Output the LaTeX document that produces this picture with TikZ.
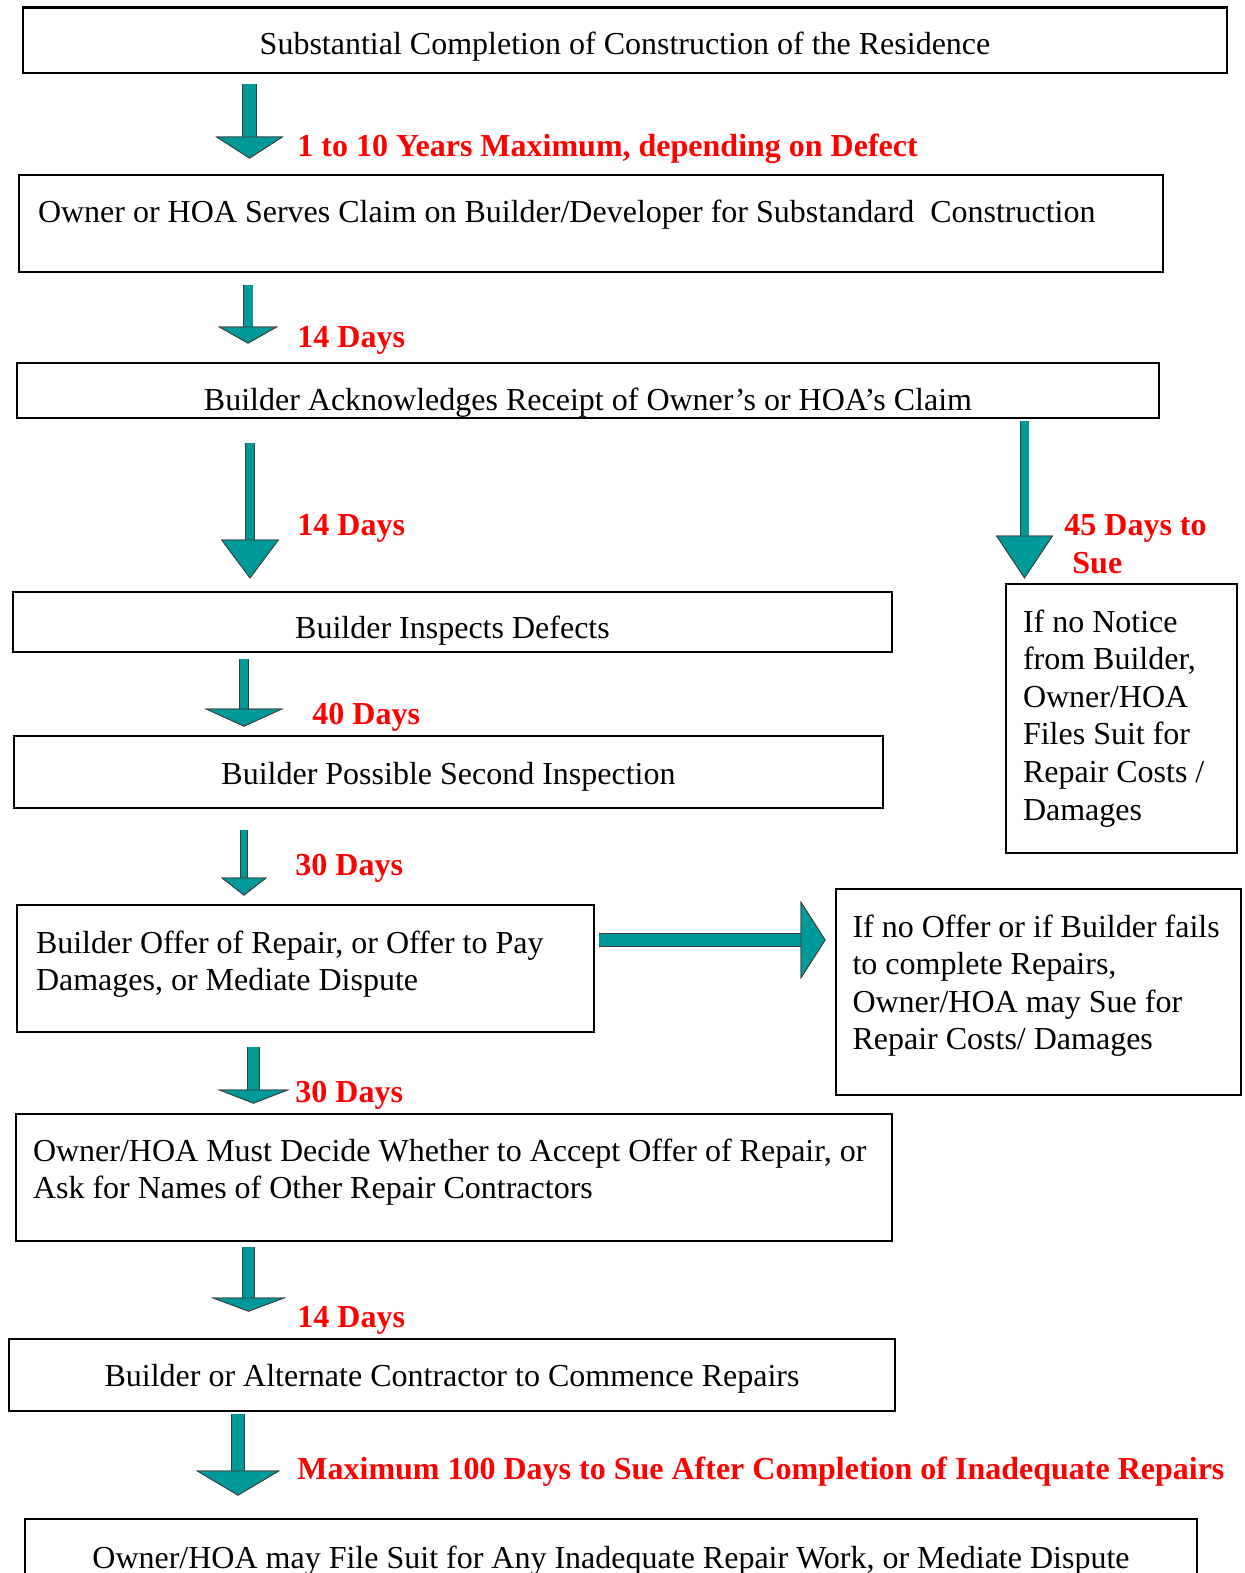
\documentclass[tikz,border=0pt]{standalone}
\usepackage{fontspec}
\setmainfont{Liberation Serif}
\usetikzlibrary{arrows.meta}
\definecolor{arrowteal}{RGB}{0,153,153}
\definecolor{arrowedge}{RGB}{60,60,60}
\definecolor{dayred}{RGB}{255,0,0}

\tikzset{
	box/.style={draw, line width=1.4pt, inner sep=0pt},
	lefttext/.style={text width=#1, execute at begin node={\raggedright\spaceskip=0pt\xspaceskip=0pt}},
	daylabel/.style={text=dayred, font=\fontsize{16pt}{19pt}\selectfont\bfseries, inner sep=0pt, anchor=base west},
	flow/.style n args={3}{draw=arrowteal, line width=#1, -{Triangle[width=#2, length=#3, fill=arrowteal, color=arrowedge, line width=0.4pt]}, preaction={draw=arrowedge, line width=#1+0.8pt}}
}

\begin{document}
\begin{tikzpicture}[x=0.5pt, y=-0.5pt, every node/.style={font=\fontsize{16pt}{18.8pt}\selectfont}]
	\useasboundingbox (0,0) rectangle (1244,1573);

	\node[box, minimum width=602pt, minimum height=32.75pt, text height=18.75pt, text depth=4pt] (completion) at (625,40.25) {Substantial Completion of Construction of the Residence};
	\node[box, minimum width=572pt, minimum height=48.5pt, lefttext=553pt, text height=3.5pt, text depth=4pt] (claim) at (591,223.5) {Owner or HOA Serves Claim on Builder/Developer for Substandard~ Construction};
	\node[box, minimum width=571pt, minimum height=27.5pt, text height=23.5pt, text depth=4pt] (ack) at (588,390.5) {Builder Acknowledges Receipt of Owner’s or HOA’s Claim};
	\node[box, minimum width=439.5pt, minimum height=30pt, text height=20pt, text depth=4pt] (inspect) at (452.5,622) {Builder Inspects Defects};
	\node[box, minimum width=115.5pt, minimum height=134.5pt, lefttext=98.5pt, text height=11.5pt, text depth=98pt] (nonotice) at (1121.5,718.5) {If no Notice\\ from Builder,\\ Owner/HOA\\ Files Suit for\\ Repair Costs /\\ Damages};
	\node[box, minimum width=434.5pt, minimum height=36pt, text height=16pt, text depth=4pt] (second) at (448.5,772) {Builder Possible Second Inspection};
	\node[box, minimum width=288.5pt, minimum height=63.5pt, lefttext=269.5pt, text height=7.3pt, text depth=22.8pt] (offer) at (305.5,968.5) {Builder Offer of Repair, or Offer to Pay\\ Damages, or Mediate Dispute};
	\node[box, minimum width=202.5pt, minimum height=103pt, lefttext=186pt, text height=5.4pt, text depth=60.4pt] (nooffer) at (1038.5,992) {If no Offer or if Builder fails\\ to complete Repairs,\\ Owner/HOA may Sue for\\ Repair Costs/ Damages};
	\node[box, minimum width=438pt, minimum height=63.5pt, lefttext=421pt, text height=6.3pt, text depth=22.8pt] (decide) at (454,1177.5) {Owner/HOA Must Decide Whether to Accept Offer of Repair, or\\ Ask for Names of Other Repair Contractors};
	\node[box, minimum width=443pt, minimum height=36pt, text height=15pt, text depth=4pt] (commence) at (452,1375) {Builder or Alternate Contractor to Commence Repairs};
	\node[box, minimum width=586pt, minimum height=50.5pt, text height=2.5pt, text depth=4pt] (suit) at (611,1569.5) {Owner/HOA may File Suit for Any Inadequate Repair Work, or Mediate Dispute};

	\node[daylabel] (years) at (297,157) {1 to 10 Years Maximum, depending on Defect};
	\node[daylabel] (ackdays) at (297,347) {14 Days};
	\node[daylabel] (inspdays) at (297,535) {14 Days};
	\node[daylabel, lefttext=75pt] (suedays) at (1064,535) {45 Days to\\ \hspace*{4pt}Sue};
	\node[daylabel] (seconddays) at (312,724) {40 Days};
	\node[daylabel] (offerdays) at (295,875) {30 Days};
	\node[daylabel] (decidedays) at (295,1102) {30 Days};
	\node[daylabel] (commencedays) at (297,1327) {14 Days};
	\node[daylabel] (suedeadline) at (297,1479) {Maximum 100 Days to Sue After Completion of Inadequate Repairs};

	\draw[flow={6.5pt}{34pt}{11pt}, shorten <=5pt, shorten >=7.5pt] (completion.south -| 249.5,0) -- (claim.north -| 249.5,0);
	\draw[flow={4.5pt}{30pt}{8.5pt}, shorten <=6pt, shorten >=9pt] (claim.south -| 248,0) -- (ack.north -| 248,0);
	\draw[flow={4pt}{29pt}{19.5pt}, shorten <=12pt, shorten >=6pt] (ack.south -| 250,0) -- (inspect.north -| 250,0);
	\draw[flow={4pt}{28.5pt}{21.5pt}, shorten <=1pt, shorten >=2pt] (ack.south -| 1024.5,0) -- (nonotice.north -| 1024.5,0);
	\draw[flow={4pt}{39.5pt}{9pt}, shorten <=3pt, shorten >=4pt] (inspect.south -| 244,0) -- (second.north -| 244,0);
	\draw[flow={3pt}{23pt}{9pt}, shorten <=10.5pt, shorten >=4pt] (second.south -| 244,0) -- (offer.north -| 244,0);
	\draw[flow={6pt}{39pt}{12.5pt}, shorten <=2pt, shorten >=4.5pt] (offer.east |- 0,940) -- (nooffer.west |- 0,940);
	\draw[flow={5.5pt}{36pt}{7pt}, shorten <=7pt, shorten >=4.5pt] (offer.south -| 253.5,0) -- (decide.north -| 253.5,0);
	\draw[flow={5.5pt}{37.5pt}{7pt}, shorten <=2.5pt, shorten >=13pt] (decide.south -| 248.5,0) -- (commence.north -| 248.5,0);
	\draw[flow={6pt}{42pt}{12.5pt}, shorten <=1pt, shorten >=11pt] (commence.south -| 238,0) -- (suit.north -| 238,0);

\end{tikzpicture}
\end{document}
